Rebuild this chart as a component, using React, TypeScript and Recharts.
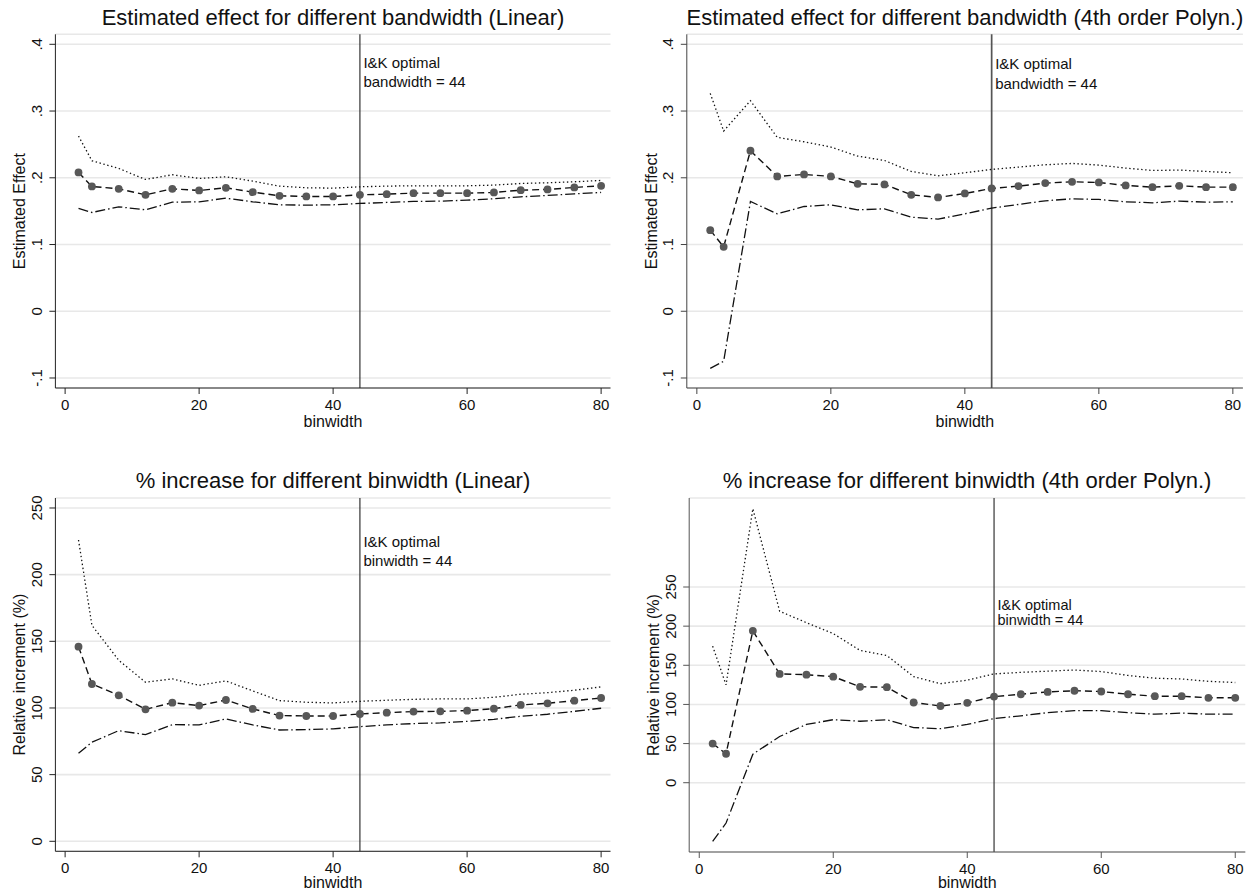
import React from 'react';
import { LineChart, Line, XAxis, YAxis, CartesianGrid, ReferenceLine } from 'recharts';

// ---------------- data ----------------
const binwidth = [2, 4, 8, 12, 16, 20, 24, 28, 32, 36, 40, 44, 48, 52, 56, 60, 64, 68, 72, 76, 80];

// Estimated effect, linear
const linEst = [0.208, 0.187, 0.1835, 0.1745, 0.1835, 0.181, 0.185, 0.1785, 0.173, 0.172, 0.172, 0.1745, 0.1755, 0.177, 0.177, 0.177, 0.178, 0.1815, 0.1825, 0.1855, 0.188];
const linHi = [0.2625, 0.2255, 0.214, 0.1975, 0.2045, 0.199, 0.2015, 0.195, 0.1875, 0.185, 0.1845, 0.1865, 0.1875, 0.188, 0.188, 0.188, 0.189, 0.1915, 0.1925, 0.194, 0.196];
const linLo = [0.154, 0.148, 0.1565, 0.152, 0.1635, 0.164, 0.1695, 0.164, 0.1595, 0.159, 0.1595, 0.1615, 0.163, 0.1645, 0.165, 0.1665, 0.1685, 0.1715, 0.1735, 0.176, 0.178];

// Estimated effect, 4th order polynomial
const polEst = [0.1215, 0.0965, 0.2405, 0.202, 0.205, 0.202, 0.191, 0.19, 0.1745, 0.1705, 0.1765, 0.184, 0.1875, 0.192, 0.194, 0.193, 0.1885, 0.186, 0.188, 0.186, 0.186];
const polHi = [0.3265, 0.27, 0.3155, 0.2605, 0.254, 0.246, 0.2325, 0.226, 0.2095, 0.203, 0.2075, 0.2125, 0.216, 0.2195, 0.2215, 0.219, 0.2145, 0.211, 0.2115, 0.2095, 0.2075];
const polLo = [-0.0855, -0.075, 0.1645, 0.146, 0.157, 0.1595, 0.152, 0.1535, 0.141, 0.138, 0.146, 0.1545, 0.16, 0.1655, 0.1685, 0.1675, 0.164, 0.1625, 0.165, 0.1635, 0.164];

// % increase, linear
const pctLinEst = [146, 118, 109.5, 99, 104, 101.8, 106, 99.3, 94.3, 94, 94, 95.5, 96.5, 97.3, 97.5, 98, 99.5, 102.3, 103.5, 105.5, 107.5];
const pctLinHi = [226, 162, 135.8, 119.3, 121.8, 117, 120.3, 112.8, 105.5, 104.3, 103.8, 105, 105.8, 106.5, 106.8, 106.8, 108, 110.3, 111.5, 113.3, 115.8];
const pctLinLo = [66, 74.3, 83, 80, 87.5, 87.3, 91.8, 87.3, 83.5, 83.8, 84.3, 86, 87.3, 88.3, 88.8, 90, 91.5, 93.8, 95.3, 97.5, 99.8];

// % increase, 4th order polynomial
const pctPolEst = [50, 37, 194, 139, 138, 135.5, 122.5, 122, 102.5, 98, 102, 110, 113, 116, 117.5, 116.5, 113, 110.5, 110.5, 108.5, 108.5];
const pctPolHi = [174.5, 125, 350, 219, 204.5, 190.5, 169, 162.5, 135.5, 126.5, 131, 139, 141, 142.5, 144, 142, 137, 133.5, 132.5, 129.5, 128];
const pctPolLo = [-75, -51.5, 36.5, 59, 74.5, 80.5, 78.5, 80.5, 70.5, 69, 74.5, 82, 85.5, 89.5, 92, 92, 89.5, 87.5, 89, 87.5, 87.5];

// ticks / labels
const xTicks = [0, 20, 40, 60, 80];
const effectTicks = [-0.1, 0, 0.1, 0.2, 0.3, 0.4];
const effectTickLabels = ['-.1', '0', '.1', '.2', '.3', '.4'];
const pctTicks = [0, 50, 100, 150, 200, 250];
const pctTickLabels = ['0', '50', '100', '150', '200', '250'];
const optimalBinwidth = 44;

const titles = [
  'Estimated effect for different bandwidth (Linear)',
  'Estimated effect for different bandwidth (4th order Polyn.)',
  '% increase for different binwidth (Linear)',
  '% increase for different binwidth (4th order Polyn.)',
];
const yLabels = ['Estimated Effect', 'Estimated Effect', 'Relative increment (%)', 'Relative increment (%)'];
const xLabel = 'binwidth';
const annotations = [
  ['I&K optimal', 'bandwidth = 44'],
  ['I&K optimal', 'bandwidth = 44'],
  ['I&K optimal', 'binwidth = 44'],
  ['I&K optimal', 'binwidth = 44'],
];

// ---------------- rendering ----------------
const FONT = '"Liberation Sans", Arial, Helvetica, sans-serif';

type PanelProps = {
  left: number; top: number; width: number; height: number;
  margin: { top: number; right: number; bottom: number; left: number };
  yAxisWidth: number;
  xDomain: [number, number];
  yDomain: [number, number];
  yTicks: number[]; yTickLabels: string[];
  est: number[]; lo: number[]; hi: number[];
  yLabel: string;
  annot: string[];
  annotY1: number; annotY2: number; annotSize: number;
  refStroke: string; refWidth: number;
  axisColor: string;
  xLabelBaseline: number;
};

function Panel(p: PanelProps) {
  const data = binwidth.map((x, i) => ({ x, est: p.est[i], lo: p.lo[i], hi: p.hi[i] }));
  const labelFor = (v: number) => {
    const idx = p.yTicks.findIndex((t) => Math.abs(t - v) < 1e-9);
    return idx >= 0 ? p.yTickLabels[idx] : String(v);
  };
  const yTick = (props: any) => {
    const { x, y, payload } = props;
    return (
      <text x={x} y={y} transform={`rotate(-90 ${x} ${y})`} textAnchor="middle" fontSize={15} fontFamily={FONT} fill="#111">
        {labelFor(payload.value)}
      </text>
    );
  };
  const yLabelFn = (props: any) => {
    const vb = props.viewBox;
    const bx = vb.x + vb.width - 30;
    const cy = vb.y + vb.height / 2;
    return (
      <text x={bx} y={cy} transform={`rotate(-90 ${bx} ${cy})`} textAnchor="middle" fontSize={16} fontFamily={FONT} fill="#111">
        {p.yLabel}
      </text>
    );
  };
  const xLabelFn = (props: any) => {
    const vb = props.viewBox;
    return (
      <text x={vb.x + vb.width / 2} y={vb.y + p.xLabelBaseline} textAnchor="middle" fontSize={16} fontFamily={FONT} fill="#111">
        {xLabel}
      </text>
    );
  };
  const annotFn = (props: any) => {
    const vb = props.viewBox;
    const x = vb.x + 3.5;
    return (
      <g>
        <text x={x} y={vb.y + p.annotY1} fontSize={p.annotSize} fontFamily={FONT} fill="#111">{p.annot[0]}</text>
        <text x={x} y={vb.y + p.annotY2} fontSize={p.annotSize} fontFamily={FONT} fill="#111">{p.annot[1]}</text>
      </g>
    );
  };
  return (
    <div style={{ position: 'absolute', left: p.left, top: p.top }}>
      <LineChart width={p.width} height={p.height} data={data} margin={p.margin}>
        <CartesianGrid vertical={false} stroke="#e8e8e8" strokeWidth={1.6} />
        <XAxis
          dataKey="x" type="number" domain={p.xDomain} ticks={xTicks} allowDataOverflow interval={0}
          height={40} tickSize={6} tickMargin={5} stroke={p.axisColor}
          tick={{ fontSize: 15, fill: '#111', fontFamily: FONT }}
          label={xLabelFn}
        />
        <YAxis
          type="number" domain={p.yDomain} ticks={p.yTicks} allowDataOverflow interval={0}
          width={p.yAxisWidth} tickSize={6} tickMargin={7.5} stroke={p.axisColor}
          tick={yTick} label={yLabelFn}
        />
        <ReferenceLine x={optimalBinwidth} stroke={p.refStroke} strokeWidth={p.refWidth} label={annotFn} />
        <Line dataKey="hi" type="linear" stroke="#111" strokeWidth={1.3} strokeDasharray="1.4 2.6" dot={false} isAnimationActive={false} />
        <Line dataKey="lo" type="linear" stroke="#111" strokeWidth={1.3} strokeDasharray="10 3 1.5 3" dot={false} isAnimationActive={false} />
        <Line
          dataKey="est" type="linear" stroke="#111" strokeWidth={1.4} strokeDasharray="7 4"
          dot={{ r: 3.9, fill: '#585858', stroke: 'none', strokeDasharray: 'none' }}
          isAnimationActive={false}
        />
      </LineChart>
    </div>
  );
}

export default function App() {
  return (
    <div style={{ position: 'absolute', left: 0, top: 0, width: 1258, height: 894, background: '#fff', overflow: 'hidden' }}>
      <Panel
        left={0} top={0} width={629} height={447}
        margin={{ top: 34.3, right: 18.5, bottom: 19, left: 0.4 }} yAxisWidth={55}
        xDomain={[-1.45, 81.4]} yDomain={[-0.115, 0.415]}
        yTicks={effectTicks} yTickLabels={effectTickLabels}
        est={linEst} lo={linLo} hi={linHi}
        yLabel={yLabels[0]} annot={annotations[0]} annotY1={34} annotY2={53} annotSize={15}
        refStroke="#222" refWidth={1.1} axisColor="#222" xLabelBaseline={39.3}
      />
      <Panel
        left={629} top={0} width={629} height={447}
        margin={{ top: 34.3, right: 15.1, bottom: 19, left: 0.8 }} yAxisWidth={57}
        xDomain={[-1.5, 81.5]} yDomain={[-0.115, 0.415]}
        yTicks={effectTicks} yTickLabels={effectTickLabels}
        est={polEst} lo={polLo} hi={polHi}
        yLabel={yLabels[1]} annot={annotations[1]} annotY1={35} annotY2={55} annotSize={15}
        refStroke="#555" refWidth={1.7} axisColor="#444" xLabelBaseline={39.3}
      />
      <Panel
        left={0} top={447} width={629} height={447}
        margin={{ top: 51, right: 18.5, bottom: 2.7, left: 0.4 }} yAxisWidth={55}
        xDomain={[-1.45, 81.4]} yDomain={[-7.5, 257.5]}
        yTicks={pctTicks} yTickLabels={pctTickLabels}
        est={pctLinEst} lo={pctLinLo} hi={pctLinHi}
        yLabel={yLabels[2]} annot={annotations[2]} annotY1={49} annotY2={68.3} annotSize={15}
        refStroke="#222" refWidth={1.1} axisColor="#222" xLabelBaseline={36.4}
      />
      <Panel
        left={629} top={447} width={629} height={447}
        margin={{ top: 51, right: 12.7, bottom: 2, left: 0.2 }} yAxisWidth={60}
        xDomain={[-1.5, 81.5]} yDomain={[-88.5, 363.7]}
        yTicks={pctTicks} yTickLabels={pctTickLabels}
        est={pctPolEst} lo={pctPolLo} hi={pctPolHi}
        yLabel={yLabels[3]} annot={annotations[3]} annotY1={112} annotY2={127} annotSize={14.5}
        refStroke="#222" refWidth={1.1} axisColor="#555" xLabelBaseline={36.4}
      />
      <svg width={1258} height={894} style={{ position: 'absolute', left: 0, top: 0, pointerEvents: 'none' }}>
        <text x={333} y={25} textAnchor="middle" fontSize={22} fontFamily={FONT} fill="#111">{titles[0]}</text>
        <text x={965} y={25} textAnchor="middle" fontSize={22} fontFamily={FONT} fill="#111">{titles[1]}</text>
        <text x={333} y={487.7} textAnchor="middle" fontSize={22} fontFamily={FONT} fill="#111">{titles[2]}</text>
        <text x={967} y={487.7} textAnchor="middle" fontSize={22} fontFamily={FONT} fill="#111">{titles[3]}</text>
      </svg>
    </div>
  );
}
